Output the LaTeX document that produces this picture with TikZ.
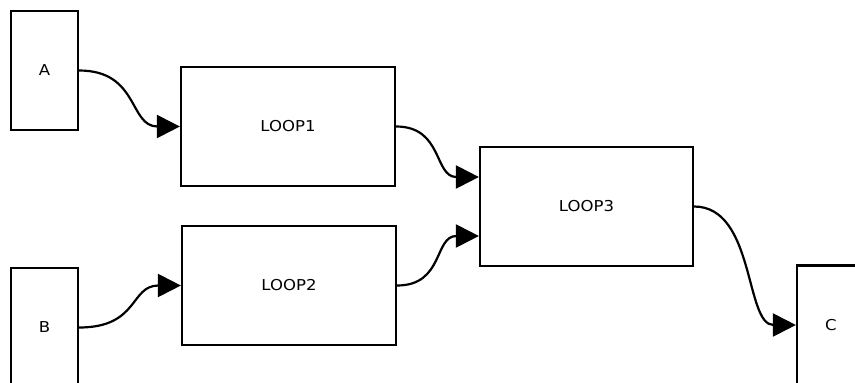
\documentclass[tikz,border=0pt]{standalone}
\usepackage{fontspec}
\setmainfont{DejaVu Sans}[FakeStretch=1.1]
\usetikzlibrary{arrows.meta}
\begin{document}
\begin{tikzpicture}[x=1pt,y=-1pt,
  box/.style={draw=black,line width=2.2pt,fill=white,inner sep=0pt,font=\fontsize{15}{17}\selectfont},
  term/.style={box,minimum width=67pt,minimum height=119pt},
  loop/.style={box,minimum width=214pt,minimum height=119pt},
  link/.style={line width=2.2pt,-{Triangle[length=23pt,width=23pt]}}]
\useasboundingbox (0,0) rectangle (855,383);
\node[term] (A) at (44.5,70.5) {A};
\node[term] (B) at (44.5,327.5) {B};
\node[term,minimum width=68pt] (C) at (831,325) {C};
\node[loop] (L1) at (288,126.5) {LOOP1};
\node[loop] (L2) at (289,285.5) {LOOP2};
\node[loop,minimum width=213pt] (L3) at (586.5,206.5) {LOOP3};
\coordinate (L3in1) at ([yshift=29.5pt]L3.west);
\coordinate (L3in2) at ([yshift=-29.5pt]L3.west);
\draw[link] (A.east) .. controls +(60,0) and +(-51,0) .. (L1.west);
\draw[link] (B.east) .. controls +(60,0) and +(-51,0) .. (L2.west);
\draw[link] (L1.east) .. controls +(47,0) and +(-45,0) .. (L3in1);
\draw[link] (L2.east) .. controls +(47,0) and +(-45,0) .. (L3in2);
\draw[link] (L3.east) .. controls +(61,0) and +(-51,0) .. (C.west);
\end{tikzpicture}
\end{document}
